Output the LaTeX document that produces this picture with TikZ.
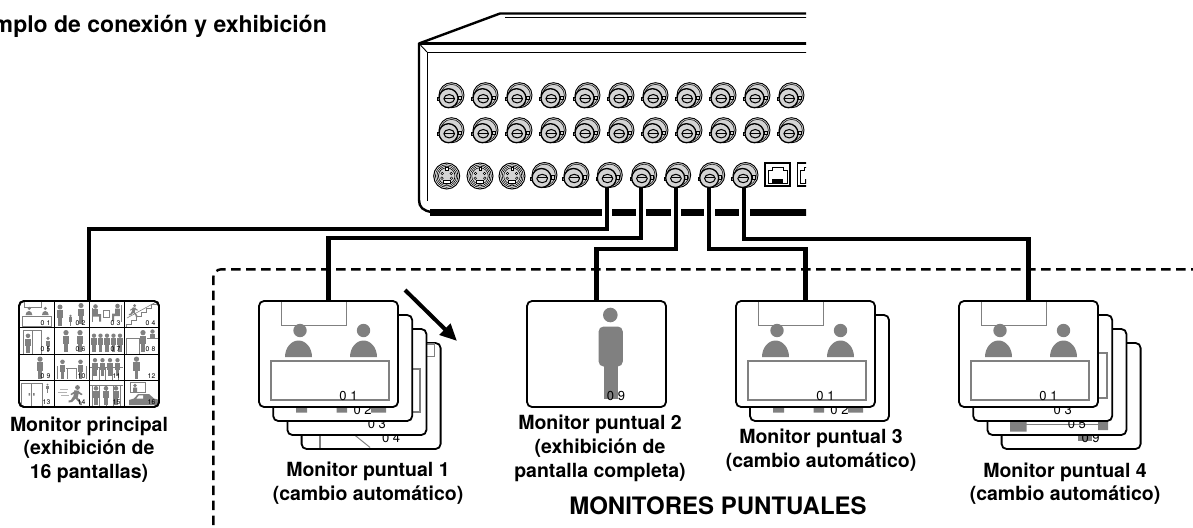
\documentclass[tikz,border=0pt]{standalone}
\usepackage{fontspec}
\setmainfont{TeX Gyre Heros}
\usetikzlibrary{arrows.meta}

\definecolor{figgray}{RGB}{128,128,128}
\definecolor{bncgray}{RGB}{212,212,212}

\newcommand\labfont{\fontsize{19.5}{23.7}\selectfont\bfseries}
\newcommand\numfont{\fontsize{13}{13}\selectfont}
\newcommand\cellfont{\fontsize{6.8}{7}\selectfont}
\newcommand\dg[2]{#1\hspace{2pt}#2}

% BNC jack centred at (#1,#2)
\newcommand\bnc[2]{%
\begin{scope}[shift={(#1,#2)}]
  \draw[line width=0.9pt, fill=bncgray] (1.5,-1.5) circle[radius=12.5];
  \draw[line width=0.5pt] (1.5,-1.5) circle[radius=10.8];
  \draw[line width=0.6pt, fill=bncgray] (-12.5,0.3) rectangle (-9.5,3.5);
  \draw[line width=0.6pt, fill=bncgray] (7.8,-0.8) rectangle (10.8,2.4);
  \draw[line width=1.3pt, fill=bncgray] (-1.5,1.5) circle[radius=9.5];
  \draw[line width=1pt, fill=bncgray] (-0.8,2) ellipse[x radius=5.3, y radius=4.2];
  \draw[line width=0.8pt] (-6,1.2) -- (4.5,1.2);
\end{scope}}

% S-video (mini-DIN) socket
\newcommand\svid[2]{%
\begin{scope}[shift={(#1,#2)}]
  \draw[line width=1pt, fill=white] (0,0) circle[radius=13];
  \draw[line width=0.6pt] (0,0) circle[radius=11.3];
  \draw[line width=0.6pt] (0,0) circle[radius=9.8];
  \draw[line width=0.6pt, fill=bncgray] (0,0) circle[radius=8.3];
  \foreach \px/\py in {-4.5/-2.5, 4.5/-2.5, -4.8/2.2, 4.8/2.2}
    \draw[line width=0.5pt, fill=white] (\px,\py) circle[radius=1.3];
  \draw[line width=0.6pt, fill=white] (-3.5,4.5) rectangle (3.5,7.5);
  \draw[line width=0.5pt, fill=white] (-1.2,-8.3) rectangle (1.2,-5.8);
\end{scope}}

% RJ45 socket
\newcommand\rjack[2]{%
\begin{scope}[shift={(#1,#2)}]
  \draw[line width=1.2pt, fill=white] (-12.5,-11.5) rectangle (12.5,11.5);
  \draw[line width=0.8pt] (-9.5,8.5) -- (-9.5,-4.5) -- (-5.5,-4.5) -- (-5.5,-7.5)
        -- (5.5,-7.5) -- (5.5,-4.5) -- (9.5,-4.5) -- (9.5,8.5) -- cycle;
  \fill (-5.5,4.5) rectangle (5.5,8.5);
\end{scope}}

% small standing figure, feet at (#1,#2), height #3
\newcommand\pers[3]{%
  \fill[figgray] (#1,{#2-0.88*#3}) circle[radius={0.12*#3}];
  \fill[figgray] ({#1-0.15*#3},{#2-0.73*#3}) rectangle ({#1+0.15*#3},{#2-0.36*#3});
  \fill[figgray] ({#1-0.09*#3},{#2-0.4*#3}) rectangle ({#1+0.09*#3},#2);
}

% small running figure
\newcommand\runp[3]{%
\begin{scope}[shift={(#1,#2)}, scale={#3/20}]
  \fill[figgray] (2.5,-17.5) circle[radius=2.4];
  \fill[figgray] (-0.5,-14.8) -- (4.3,-14.3) -- (2.6,-7) -- (-1.8,-7.6) -- cycle;
  \fill[figgray] (-1.5,-8.5) -- (2.5,-7.5) -- (6.3,-3) -- (7,0) -- (4.6,0) -- (3.6,-3) -- cycle;
  \fill[figgray] (-1.8,-8.5) -- (1,-7) -- (-3,-3) -- (-6.5,-2.5) -- (-6.5,-4.6) -- (-4.2,-4.8) -- cycle;
  \fill[figgray] (3,-14) -- (7.5,-11) -- (6.5,-9.8) -- (2.4,-12) -- cycle;
  \fill[figgray] (0,-14) -- (-4.5,-11) -- (-3.8,-9.8) -- (0.6,-12.2) -- cycle;
\end{scope}}

% desk scene of a camera picture, drawn in a 139 x 106 frame
\newcommand\deskscene[1]{%
  \draw[figgray, line width=#1] (22.5,1) -- (22.5,24.5) -- (87.5,24.5) -- (87.5,1);
  \fill[figgray] (41,29.5) circle[radius=6.7] (104.5,29.5) circle[radius=6.7];
  \fill[figgray] (26,56) arc[start angle=180, end angle=360, x radius=13.5, y radius=16.5] -- cycle;
  \fill[figgray] (91,56) arc[start angle=180, end angle=360, x radius=13.5, y radius=16.5] -- cycle;
  \draw[figgray, line width=#1] (11.7,60.3) rectangle (130,99.3);
}

% single standing person picture
\newcommand\standscene{%
  \fill[figgray] (83.3,14) circle[radius=7.3];
  \fill[figgray, rounded corners=5pt] (71.6,25.5) rectangle (95.8,65.5);
  \fill[figgray] (76.6,63) rectangle (90.6,97.5);
}

% lower part of picture 02
\newcommand\legsscene{%
  \fill[figgray] (23,91) rectangle (34,97.5) (63.5,91) rectangle (74,97.5) (98,91) rectangle (113,97.5);
}

\begin{document}
\begin{tikzpicture}[x=1pt, y=-1pt,
  scr/.style={draw=black, line width=1.8pt, rounded corners=5pt, fill=white,
              inner sep=0pt, outer sep=0pt, minimum width=139pt, minimum height=106pt,
              anchor=north west},
  cable/.style={line width=4.2pt},
  dashbox/.style={line width=2.4pt, dash pattern=on 9.5pt off 5.5pt, rounded corners=8pt},
  lab/.style={font=\labfont, align=center, inner sep=0pt, anchor=north},
  num/.style={font=\numfont, inner sep=0pt, anchor=base},
  cellnum/.style={font=\cellfont, inner sep=0pt, anchor=base east},
  gline/.style={draw=figgray, line width=0.6pt},
  hint/.style={line width=4pt, -{Triangle[length=17pt, width=15pt]}}]

\useasboundingbox (0,0) rectangle (1193,527);

% title
\node[font=\fontsize{23}{27}\selectfont\bfseries, inner sep=0pt, anchor=base east]
  (ttl) at (327,33) {Ejemplo de conexión y exhibición};

% frame around the spot monitors
\draw[dashbox] (213.3,540) -- (213.3,269.3) -- (1200,269.3);

% ---------------- main monitor (16 pictures) ----------------
\node[scr, minimum width=140pt] (mm) at (19,301) {};
\begin{scope}[shift={(19,301)}]
  \begin{scope}[scale=0.2518]\deskscene{0.5pt}\end{scope}
  \node[cellnum] at (31.5,24) {\dg01};
\end{scope}
\begin{scope}[shift={(54,301)}]
  \pers{6}{24.5}{21}\pers{16.5}{24.5}{11}\pers{27}{23}{21}
  \node[cellnum] at (31.5,24) {\dg02};
\end{scope}
\begin{scope}[shift={(89,301)}]
  \fill[figgray] (6.5,5.5) circle[radius=2.3];
  \fill[figgray] (4.2,8) rectangle (8.8,15.5) (4.2,13) rectangle (12,15.5) (10,13) rectangle (12.2,20.5);
  \draw[gline] (3,7) -- (3,21);
  \draw[gline] (14.5,9.5) rectangle (20.5,16);
  \fill[figgray] (28.5,5) circle[radius=2.3];
  \fill[figgray] (26.2,7.5) rectangle (30.8,15) (23,12.5) rectangle (30.8,15) (23,12.5) rectangle (25.2,20);
  \draw[gline] (32.5,4) -- (32.5,21);
  \node[cellnum] at (31.5,24) {\dg03};
\end{scope}
\begin{scope}[shift={(124,301)}]
  \draw[gline] (2,26.5) -- (2,23) -- (7,23) -- (7,19) -- (12,19) -- (12,15) -- (17,15) -- (17,11)
     -- (22,11) -- (22,7) -- (27,7) -- (27,3) -- (32,3) -- (32,0);
  \draw[gline] (3,17) -- (33,0.5);
  \runp{9}{16}{13}
  \node[cellnum] at (31.5,24) {\dg04};
\end{scope}
\begin{scope}[shift={(19,327.5)}]
  \draw[gline] (4,26.5) -- (4,2.5) -- (22,2.5) -- (22,26.5) (13,2.5) -- (13,26.5);
  \pers{9}{25}{19}\pers{29}{24}{15}
  \node[cellnum] at (31.5,24) {\dg05};
\end{scope}
\begin{scope}[shift={(54,327.5)}]
  \pers{12}{24.5}{22}\pers{26}{24.5}{22}
  \node[cellnum] at (31.5,24) {\dg06};
\end{scope}
\begin{scope}[shift={(89,327.5)}]
  \foreach \px in {5,11.5,18,24.5,31} {\pers{\px}{24}{18}}
  \node[cellnum] at (31.5,24) {\dg07};
\end{scope}
\begin{scope}[shift={(124,327.5)}]
  \draw[gline] (2,26.5) -- (2,11) -- (15,11) -- (15,26.5);
  \pers{19}{24.5}{22}
  \fill[figgray] (28.5,4) circle[radius=2.2];
  \fill[figgray] (26.2,6) rectangle (30.8,10.5);
  \draw[gline] (23,10.8) -- (34,10.8);
  \node[cellnum] at (31.5,24) {\dg08};
\end{scope}
\begin{scope}[shift={(19,354)}]
  \pers{21}{24.5}{22}
  \node[cellnum] at (31.5,24) {\dg09};
\end{scope}
\begin{scope}[shift={(54,354)}]
  \pers{8.5}{24.5}{19}\pers{26.5}{24.5}{19}
  \draw[gline] (12,14) -- (23,14) (13,14) -- (13,25) (22,14) -- (22,25) (3,12) -- (3,25) (32,12) -- (32,25);
  \node[cellnum] at (31.5,24) {10};
\end{scope}
\begin{scope}[shift={(89,354)}]
  \foreach \px in {6,13.5,21,28.5} {\pers{\px}{22}{18}}
  \draw[figgray, line width=1pt] (1,13.5) -- (34,13.5);
  \foreach \px in {3.5,10,16.5,23,29.5} {\draw[gline] (\px,13.5) -- (\px,26.5);}
  \node[cellnum] at (31.5,24) {11};
\end{scope}
\begin{scope}[shift={(124,354)}]
  \pers{12.5}{24.5}{22}
  \node[cellnum] at (31.5,24) {12};
\end{scope}
\begin{scope}[shift={(19,380.5)}]
  \draw[gline] (2,26.5) -- (2,3) -- (23,3) -- (23,26.5) (12.5,3) -- (12.5,26.5);
  \fill[figgray] (9.5,12.5) rectangle (11,15) (14,12.5) rectangle (15.5,15);
  \pers{28.5}{12}{9}
  \node[cellnum] at (31.5,24) {13};
\end{scope}
\begin{scope}[shift={(54,380.5)}]
  \draw[figgray!60, line width=1pt] (6,9) -- (14,9) (4,12) -- (13,12) (7,15) -- (15,15);
  \runp{21}{24.5}{20}
  \node[cellnum] at (31.5,24) {14};
\end{scope}
\begin{scope}[shift={(89,380.5)}]
  \pers{7}{24.5}{19}\pers{17}{24.5}{19}\pers{27}{24.5}{19}
  \draw[gline] (1,5) -- (34,5);
  \foreach \px in {3,10,17,24,31} {\draw[gline] (\px,5) -- (\px,26.5);}
  \node[cellnum] at (31.5,24) {15};
\end{scope}
\begin{scope}[shift={(124,380.5)}]
  \draw[gline] (6,2) rectangle (21,12);
  \fill[figgray] (11,5) circle[radius=1.8] (9,7) rectangle (13.2,11.5);
  \fill[figgray] (5,24.5) -- (5,19.5) -- (10,18) -- (14,13.5) -- (25,13.5) -- (30,18) -- (34,19) -- (34,24.5) -- cycle;
  \fill[white] (15,14.8) -- (19,14.8) -- (19,18) -- (12.5,18) -- cycle;
  \node[cellnum] at (31.5,24) {16};
\end{scope}
\draw[line width=0.8pt] (54,301) -- (54,407) (89,301) -- (89,407) (124,301) -- (124,407)
  (19,327.5) -- (159,327.5) (19,354) -- (159,354) (19,380.5) -- (159,380.5);
\draw[line width=1.8pt, rounded corners=5pt] (mm.north west) rectangle (mm.south east);

% ---------------- spot monitor 1 (four pictures in turn) ----------------
\node[scr] (m1d) at (301.6,343) {};
\begin{scope}[shift={(301.6,343)}]
  \draw[figgray, line width=1.5pt] (120,1) rectangle (133,13.5);
  \draw[figgray, line width=1.5pt] (18.5,88) -- (18.5,105);
  \draw[figgray, line width=1pt] (53,92) -- (68.5,104.5);
  \node[num] at (89.5,99) {0 4};
\end{scope}
\node[scr] (m1c) at (287.4,329) {};
\begin{scope}[shift={(287.4,329)}]
  \draw[figgray, line width=1.8pt] (70,40) rectangle (132.5,83);
  \node[num] at (89.5,99) {0 3};
\end{scope}
\node[scr] (m1b) at (273.2,315) {};
\begin{scope}[shift={(273.2,315)}]
  \legsscene
  \node[num] at (89.5,99) {0 2};
\end{scope}
\node[scr] (m1) at (259,301) {};
\begin{scope}[shift={(259,301)}]
  \deskscene{1.8pt}
  \node[num] at (89.5,99.5) {0 1};
\end{scope}
\coordinate (hintA) at (405,290);
\coordinate (hintB) at (457,341);
\draw[hint] (hintA) -- (hintB);

% ---------------- spot monitor 2 (full screen) ----------------
\node[scr] (m2) at (527,301) {};
\begin{scope}[shift={(527,301)}]
  \standscene
  \node[num] at (89,99.5) {0 9};
\end{scope}

% ---------------- spot monitor 3 ----------------
\node[scr] (m3b) at (750,315) {};
\begin{scope}[shift={(750,315)}]
  \legsscene
  \node[num] at (89.5,99) {0 2};
\end{scope}
\node[scr] (m3) at (736,301) {};
\begin{scope}[shift={(736,301)}]
  \deskscene{1.8pt}
  \node[num] at (89.5,99.5) {0 1};
\end{scope}

% ---------------- spot monitor 4 ----------------
\node[scr] (m4d) at (1001.6,343) {};
\begin{scope}[shift={(1001.6,343)}]
  \standscene
  \node[num] at (89,99) {0 9};
\end{scope}
\node[scr] (m4c) at (987.4,329) {};
\begin{scope}[shift={(987.4,329)}]
  \fill[figgray] (22.6,91) rectangle (39.3,102.7) (110.6,91) rectangle (120.6,101);
  \draw[figgray, line width=1pt] (30,95) -- (112,95);
  \node[num] at (89.5,99) {0 5};
\end{scope}
\node[scr] (m4b) at (973.2,315) {};
\begin{scope}[shift={(973.2,315)}]
  \draw[figgray, line width=1.8pt] (123.5,38) rectangle (133.5,83);
  \node[num] at (89.5,99) {0 3};
\end{scope}
\node[scr] (m4) at (959,301) {};
\begin{scope}[shift={(959,301)}]
  \deskscene{1.8pt}
  \node[num] at (89.5,99.5) {0 1};
\end{scope}

% ---------------- captions ----------------
\node[lab] (lmm) at (89,416.5) {Monitor principal\\(exhibición de\\16 pantallas)};
\node[lab] (lm1) at (368,462) {Monitor puntual 1\\(cambio automático)};
\node[lab] (lm2) at (600,415) {Monitor puntual 2\\(exhibición de\\pantalla completa)};
\node[lab] (lm3) at (821,429) {Monitor puntual 3\\(cambio automático)};
\node[lab] (lm4) at (1065,462.5) {Monitor puntual 4\\(cambio automático)};
\node[font=\fontsize{24}{28}\selectfont\bfseries, inner sep=0pt, anchor=north]
  (grp) at (718,497) {MONITORES PUNTUALES};

% ---------------- recorder rear panel ----------------
\begin{scope}
  \clip (400,0) rectangle (806,224);
  \draw[line width=2.4pt, line join=round] (812,13.5) -- (500,13.5) -- (419,43.5) -- (419,200)
     .. controls (419,207) and (423,211) .. (432,212);
  \draw[line width=0.9pt] (812,17.5) -- (505,17.5);
  \draw[line width=2.4pt] (419,43.5) -- (812,43.5);
  \draw[line width=0.9pt] (812,52) -- (427,52) -- (427,201);
  \draw[line width=0.9pt] (419,43.5) -- (427,52);
  \draw[line width=6.5pt] (430,212.7) -- (812,212.7);
  \foreach \k in {0,...,10} {\bnc{450+34*\k}{96.7}\bnc{450+34*\k}{131.7}}
  \svid{446.7}{176}\svid{480}{176}\svid{512}{176}
  \foreach \px in {543,575,608.3,642.7,676.7,710.7,744} {\bnc{\px}{176.5}}
  \rjack{777.5}{174.5}\rjack{810}{174.5}
\end{scope}

% output jacks used by the monitors
\coordinate (pA) at (606.7,187);
\coordinate (pB) at (641,187);
\coordinate (pC) at (676,187);
\coordinate (pD) at (709.3,187);
\coordinate (pE) at (744.3,187);
\foreach \px in {606.7,641,676,709.3,744.3} {\fill[white] (\px-5.2,207) rectangle (\px+5.2,219);}

% cables
\draw[cable] (pA) -- ++(0,41.7) -| (mm.north);
\draw[cable] (pB) -- ++(0,51.3) -| (m1.north);
\draw[cable] (pC) -- ++(0,62.3) -| (m2.north);
\draw[cable] (pD) -- ++(0,62.3) -| (m3.north);
\draw[cable] (pE) -- ++(0,52.3) -| (m4.north);

\end{tikzpicture}
\end{document}
